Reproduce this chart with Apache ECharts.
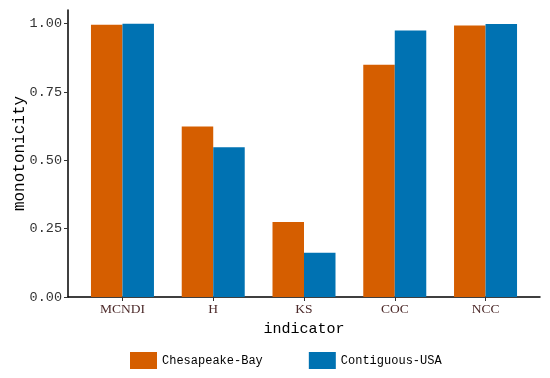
<!DOCTYPE html>
<html>
<head>
<meta charset="utf-8">
<script src="https://cdn.jsdelivr.net/npm/echarts@6/dist/echarts.min.js"></script>
<style>html,body{margin:0;padding:0;background:#fff;}#c{width:550px;height:378px;}</style>
</head>
<body>
<div id="c"></div>
<script>
var categories = ["MCNDI", "H", "KS", "COC", "NCC"];
var chesapeake = [0.996, 0.624, 0.274, 0.850, 0.993];
var contiguous = [1.000, 0.548, 0.162, 0.975, 0.999];
var yTicks = [0, 0.25, 0.5, 0.75, 1.0];
var seriesNames = ["Chesapeake-Bay", "Contiguous-USA"];

var positions = categories.map(function (c, i) { return i + 1; });
function pairs(vals) { return vals.map(function (v, i) { return [i + 1, v]; }); }

var chart = echarts.init(document.getElementById('c'), null, {renderer: 'canvas'});
chart.setOption({
  animation: false,
  backgroundColor: '#fff',
  grid: {left: 68, right: 10, top: 10, bottom: 81, containLabel: false, outerBoundsMode: 'none'},
  xAxis: {
    type: 'value', min: 0.4, max: 5.6,
    name: 'indicator', nameLocation: 'middle', nameGap: 25, nameMoveOverlap: false,
    nameTextStyle: {fontFamily: 'Liberation Mono', fontSize: 15, color: '#000'},
    axisLine: {show: true, lineStyle: {color: '#000', width: 1.5}},
    axisTick: {show: true, length: 4, lineStyle: {color: '#333'}, customValues: positions},
    axisLabel: {customValues: positions, fontFamily: 'Liberation Serif', fontSize: 13.5, color: '#4d2a2a', margin: 5,
      formatter: function (v) { return categories[Math.round(v) - 1] || ''; }},
    splitLine: {show: false}
  },
  yAxis: {
    type: 'value', min: 0, max: 1.05,
    name: 'monotonicity', nameLocation: 'middle', nameGap: 40, nameRotate: 90, nameMoveOverlap: false,
    nameTextStyle: {fontFamily: 'Liberation Mono', fontSize: 16, color: '#000'},
    axisLine: {show: true, lineStyle: {color: '#000', width: 1.5}},
    axisTick: {show: true, length: 4, lineStyle: {color: '#333'}, customValues: yTicks},
    axisLabel: {customValues: yTicks, fontFamily: 'Liberation Mono', fontSize: 13.5, color: '#333', margin: 6,
      formatter: function (v) { return v.toFixed(2); }},
    splitLine: {show: false}
  },
  legend: {
    left: 125, top: 347, itemWidth: 27, itemHeight: 17, itemGap: 46,
    icon: 'rect',
    textStyle: {fontFamily: 'Liberation Mono', fontSize: 12, color: '#000'},
    data: seriesNames
  },
  series: [
    {name: seriesNames[0], type: 'bar', data: pairs(chesapeake), barWidth: 31.5, barGap: '0%',
     itemStyle: {color: '#D55E00'}},
    {name: seriesNames[1], type: 'bar', data: pairs(contiguous), barWidth: 31.5, barGap: '0%',
     itemStyle: {color: '#0072B2'}}
  ]
});
</script>
</body>
</html>
